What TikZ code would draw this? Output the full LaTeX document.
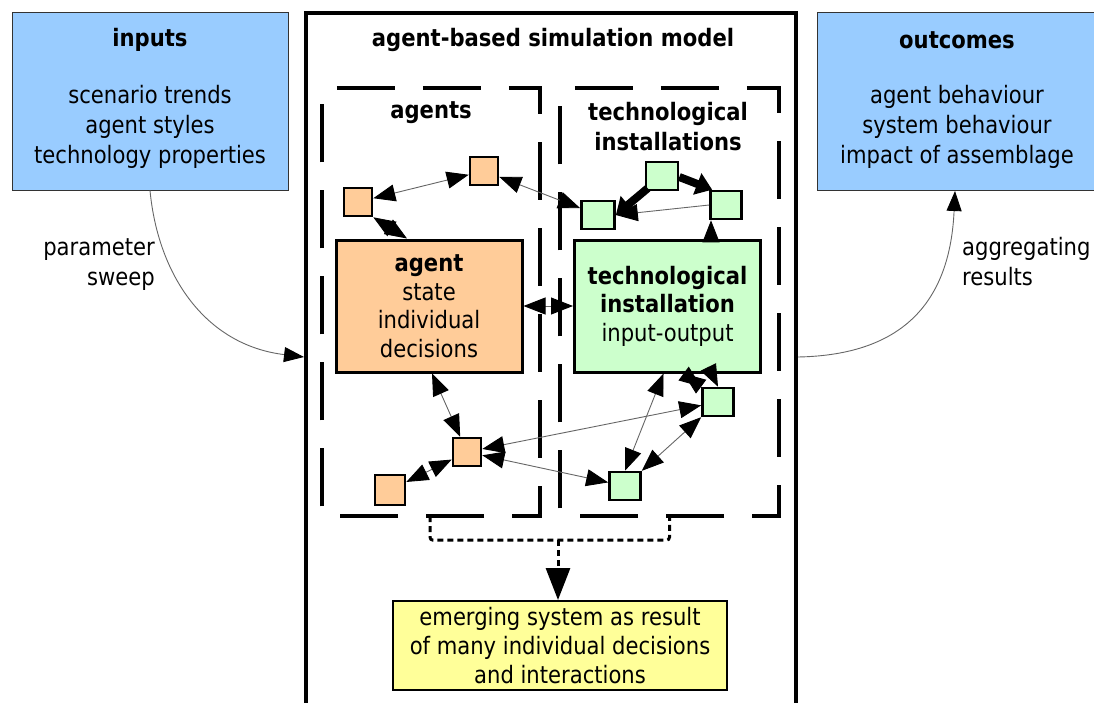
\documentclass[tikz,border=0pt]{standalone}
\usepackage{fontspec}
\setmainfont{DejaVu Sans}[FakeStretch=0.88]
\usetikzlibrary{arrows.meta,calc}
\definecolor{inblue}{HTML}{99CCFF}
\definecolor{peach}{HTML}{FFCC99}
\definecolor{mint}{HTML}{CCFFCC}
\definecolor{lemon}{HTML}{FFFF99}
\begin{document}
\begin{tikzpicture}[x=1pt,y=-1pt,
  font=\fontsize{24}{30}\selectfont,
  txt/.style={inner sep=0pt, align=center},
  infobox/.style={draw=black!80, line width=0.8pt, fill=inblue, inner sep=0pt,
    minimum width=276pt, minimum height=178pt},
  bigbox/.style={draw=black, line width=3pt, inner sep=0pt,
    minimum width=186pt, minimum height=132pt, align=center,
    font=\fontsize{24}{28.5}\selectfont},
  sq/.style={draw=black, line width=2.6pt, inner sep=0pt, minimum size=28pt},
  agsq/.style={sq, fill=peach},
  tisq/.style={sq, fill=mint},
  region/.style={inner sep=0pt, minimum width=218pt, minimum height=428pt},
  dashbox/.style={draw=black, line width=4pt, dash pattern=on 58pt off 28pt, dash phase=71pt},
  conn/.style={draw=black!60, line width=0.9pt, -{Triangle[length=22pt,width=17pt,color=black]}},
  dconn/.style={draw=black!60, line width=0.9pt,
    {Triangle[length=22pt,width=17pt,color=black]}-{Triangle[length=22pt,width=17pt,color=black]}},
  fat/.style={draw=black, line width=8pt, -{Triangle[length=16pt,width=22pt,color=black]}},
  flow/.style={draw=black!60, line width=0.9pt, -{Triangle[length=20pt,width=15pt,color=black]}},
  dotline/.style={draw=black, line width=3pt, dash pattern=on 6pt off 4pt}
]
\useasboundingbox (0,0) rectangle (1094,702);

% side boxes
\node[infobox] (inputs) at (150,101) {};
\node[txt] (inhead) at (150,40) {\bfseries inputs};
\node[txt] (inbody) at (150,127) {scenario trends\\agent styles\\technology properties};

\node[infobox, minimum width=290pt] (outcomes) at (962,101) {};
\node[txt] (outhead) at (957,40) {\bfseries outcomes};
\node[txt] (outbody) at (957,127) {agent behaviour\\system behaviour\\impact of assemblage};

% simulation model frame
\node[inner sep=0pt, minimum width=490pt, minimum height=720pt] (model) at (551,373) {};
\draw[line width=4pt] (model.south west) -- (model.north west) -- (model.north east) -- (model.south east);
\node[txt] (title) at (553,40) {\bfseries agent-based simulation model};

% dashed regions
\node[region] (agreg) at (431,302) {};
\node[region, minimum width=219pt] (tireg) at (669.5,302) {};
\draw[dashbox] (agreg.north west) -- (agreg.north east) -- (agreg.south east) -- (agreg.south west) -- cycle;
\draw[dashbox] (tireg.north west) -- (tireg.north east) -- (tireg.south east) -- (tireg.south west) -- cycle;
\node[txt] (aglabel) at (431,113) {\bfseries agents};
\node[txt] (tilabel) at (668,127) {\bfseries technological\\\bfseries installations};

% main boxes
\node[bigbox, fill=peach] (agent) at (429,306) {\textbf{agent}\\state\\individual\\decisions};
\node[bigbox, fill=mint] (tech) at (667.5,306) {\textbf{technological}\\\textbf{installation}\\input-output};

% small agents
\node[agsq] (a1) at (358,202) {};
\node[agsq] (a2) at (484,171) {};
\node[agsq] (a3) at (467,452) {};
\node[agsq, minimum size=30pt] (a4) at (390,490) {};

% small installations
\node[tisq, minimum width=33pt] (g1) at (598,215) {};
\node[tisq, minimum width=32pt] (g2) at (662,176) {};
\node[tisq, minimum width=31pt] (g3) at (726,205) {};
\node[tisq, minimum width=31pt] (g4) at (718,402) {};
\node[tisq, minimum width=31pt] (g5) at (625,486) {};

% interactions
\draw[dconn] (a1) -- (a2);
\draw[dconn] (a1.south east) -- ([xshift=-22pt]agent.north);
\draw[dconn] (a2) -- (g1);
\draw[fat] ([xshift=3pt,yshift=3pt]g2.south west) -- (g1.east);
\draw[fat] ([yshift=-1pt]g2.east) -- ([xshift=3pt]g3.north west);
\draw[conn] (g3.west) -- (g1.east);
\draw[conn] ([xshift=-51pt]tech.north east) -- ([xshift=-15pt]g3.south);
\draw[dconn] (agent.east) -- (tech.west);
\draw[dconn] ([xshift=3pt]agent.south) -- (a3);
\draw[dconn] (a3) -- (a4);
\draw[dconn] (a3) -- (g4);
\draw[dconn] (a3) -- (g5);
\draw[dconn] (g5.north) -- ([xshift=-4pt]tech.south);
\draw[dconn] (g5) -- (g4);
\draw[dconn] (g4.north west) -- ([xshift=16pt]tech.south);
\draw[conn] ([xshift=44pt]tech.south) -- (g4.north);

% emerging system
\node[draw=black, line width=2pt, fill=lemon, inner sep=0pt, minimum width=334pt,
  minimum height=89pt, align=center, font=\fontsize{24}{29}\selectfont]
  (emerge) at (560,645.5) {emerging system as result\\of many individual decisions\\and interactions};
\coordinate (join) at (558,540);
\draw[dotline, rounded corners=3pt] ([xshift=-1pt]agreg.south) -- ++(0,24) -| (tireg.south);
\draw[dotline, -{Triangle[length=32pt,width=24pt,color=black]}] (join) -- (join |- emerge.north);

% parameter sweep and aggregation
\coordinate (sweepend) at (304,357);
\coordinate (aggstart) at (798,357);
\draw[flow] (inputs.south) .. controls (158,275) and (205,345) .. (sweepend);
\draw[flow] (aggstart) .. controls (905,355) and (950,300) .. (955,191);
\node[txt, align=right, anchor=east] (sweep) at (155,265) {parameter\\sweep};
\node[txt, align=left, anchor=west] (agg) at (962,262) {aggregating\\results};
\end{tikzpicture}
\end{document}
